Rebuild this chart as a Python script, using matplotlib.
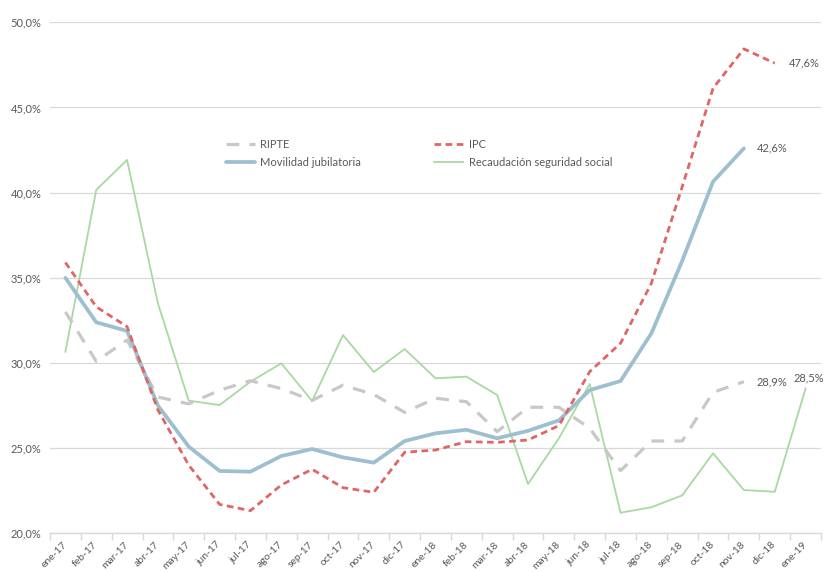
import matplotlib
matplotlib.use("Agg")
import matplotlib.pyplot as plt
from matplotlib.ticker import FixedLocator, FuncFormatter

plt.rcParams['font.family'] = ['Lato', 'DejaVu Sans']

meses = ["ene-17", "feb-17", "mar-17", "abr-17", "may-17", "jun-17", "jul-17", "ago-17",
         "sep-17", "oct-17", "nov-17", "dic-17", "ene-18", "feb-18", "mar-18", "abr-18",
         "may-18", "jun-18", "jul-18", "ago-18", "sep-18", "oct-18", "nov-18", "dic-18", "ene-19"]

ripte = [33.0, 30.1, 31.35, 28.0, 27.6, 28.4, 28.96, 28.5, 27.8, 28.7, 28.15, 27.1,
         27.93, 27.73, 25.97, 27.4, 27.4, 26.17, 23.68, 25.42, 25.42, 28.28, 28.9]
ipc = [35.9, 33.3, 32.13, 27.24, 24.0, 21.7, 21.33, 22.84, 23.76, 22.68, 22.41, 24.76,
       24.89, 25.38, 25.34, 25.48, 26.32, 29.49, 31.16, 34.68, 40.35, 46.13, 48.44, 47.6]
movilidad = [35.0, 32.39, 31.88, 27.5, 25.09, 23.66, 23.62, 24.54, 24.95, 24.46, 24.15, 25.42,
             25.87, 26.08, 25.58, 26.02, 26.63, 28.41, 28.94, 31.74, 36.0, 40.65, 42.6]
recaudacion = [30.66, 40.16, 41.92, 33.5, 27.79, 27.53, 28.9, 29.98, 27.77, 31.64, 29.47, 30.82,
               29.1, 29.2, 28.12, 22.9, 25.58, 28.77, 21.21, 21.53, 22.23, 24.7, 22.54, 22.44, 28.5]

c_ripte = "#c8c8c8"
c_ipc = "#e06666"
c_mov = "#9dbfcf"
c_rec = "#a9d9a2"
txt = "#595959"

fig = plt.figure(figsize=(8.33, 5.72), dpi=100)
ax = fig.add_axes([0.06, 0.0676, 0.9256, 0.8934])

x = list(range(len(meses)))
ax.plot(x[:len(ripte)], ripte, color=c_ripte, lw=2.3, dashes=(4, 3.2), label="RIPTE", zorder=3)
ax.plot(x[:len(movilidad)], movilidad, color=c_mov, lw=2.7, label="Movilidad jubilatoria",
        solid_capstyle='round', zorder=4)
ax.plot(x[:len(ipc)], ipc, color=c_ipc, lw=2.0, dashes=(2.4, 1.6), label="IPC", zorder=5)
ax.plot(x[:len(recaudacion)], recaudacion, color=c_rec, lw=1.3, label="Recaudación seguridad social", zorder=2)

ax.set_xlim(-0.5, len(meses) - 0.5)
ax.set_ylim(20, 50)
ax.set_yticks([20, 25, 30, 35, 40, 45, 50])
ax.yaxis.set_major_formatter(FuncFormatter(lambda v, p: f"{v:.1f}%".replace(".", ",")))
ax.grid(axis='y', color="#d9d9d9", lw=0.9)
ax.set_axisbelow(True)
for s in ["left", "right", "top"]:
    ax.spines[s].set_visible(False)
ax.spines["bottom"].set_color("#d9d9d9")
ax.spines["bottom"].set_linewidth(1.0)

ax.set_xticks(x)
ax.set_xticklabels(meses, rotation=45, ha='right', va='center', rotation_mode='anchor')
ax.xaxis.set_minor_locator(FixedLocator([i - 0.5 for i in range(len(meses) + 1)]))
ax.tick_params(axis='x', which='major', length=0, pad=7, labelsize=7.5, labelcolor=txt)
ax.tick_params(axis='x', which='minor', length=5, color="#d9d9d9", width=1)
ax.tick_params(axis='y', length=0, labelsize=8, labelcolor=txt, pad=6)

def lab(xi, yi, s, **kw):
    ax.annotate(s, (xi, yi), fontsize=8, color=txt, **kw)

lab(len(ipc) - 1, ipc[-1], f"{ipc[-1]:.1f}%".replace(".", ","), xytext=(10, 0),
    textcoords='offset points', va='center', ha='left')
lab(len(movilidad) - 1, movilidad[-1], f"{movilidad[-1]:.1f}%".replace(".", ","), xytext=(9, 0),
    textcoords='offset points', va='center', ha='left')
lab(len(ripte) - 1, ripte[-1], f"{ripte[-1]:.1f}%".replace(".", ","), xytext=(9, 0),
    textcoords='offset points', va='center', ha='left')
lab(len(recaudacion) - 1, recaudacion[-1], f"{recaudacion[-1]:.1f}%".replace(".", ","), xytext=(2, 4),
    textcoords='offset points', va='bottom', ha='center')

leg = ax.legend(ncol=2, loc='upper left', bbox_to_anchor=(0.215, 0.791), frameon=False,
                fontsize=8, labelcolor=txt, handlelength=2.6, handletextpad=0.5,
                columnspacing=6.6, labelspacing=0.65)

fig.savefig("out.png", dpi=100)
